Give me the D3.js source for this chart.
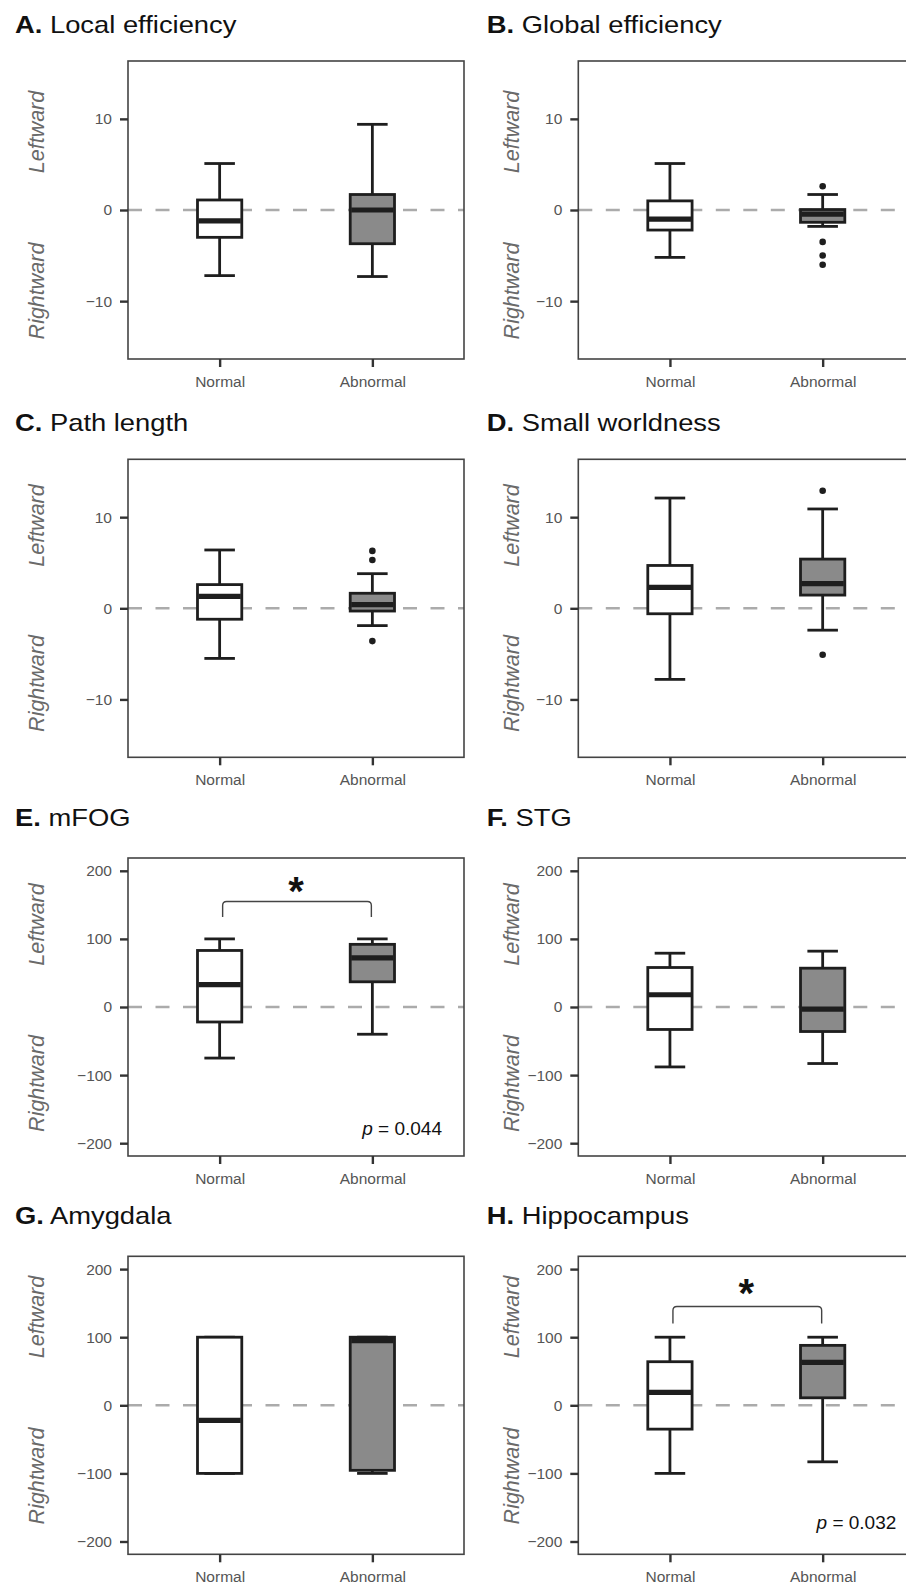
<!DOCTYPE html>
<html>
<head>
<meta charset="utf-8">
<script src="https://cdn.jsdelivr.net/npm/d3@7"></script>
<style>
  body { margin: 0; background: #fff; }
  svg { display: block; font-family: "Liberation Sans", Arial, sans-serif; }
</style>
</head>
<body>
<svg id="chart" width="906" height="1587"></svg>
<script>
const groups = ["Normal", "Abnormal"];
const panelLetters = ["A.", "B.", "C.", "D.", "E.", "F.", "G.", "H."];
const panelNames = ["Local efficiency", "Global efficiency", "Path length", "Small worldness",
  "mFOG", "STG", "Amygdala", "Hippocampus"];
const smallTicks = [-10, 0, 10];
const largeTicks = [-200, -100, 0, 100, 200];

// [min, q1, median, q3, max] per panel
const normalStats = [
  [-7.2, -3.0, -1.2, 1.1, 5.1],
  [-5.2, -2.2, -1.0, 1.0, 5.1],
  [-5.5, -1.2, 1.3, 2.6, 6.4],
  [-7.8, -0.6, 2.3, 4.7, 12.1],
  [-75, -22, 33, 83, 100],
  [-88, -33, 18, 58, 79],
  [-100, -100, -22, 100, 100],
  [-100, -35, 19, 64, 100]
];
const abnormalStats = [
  [-7.3, -3.7, 0.0, 1.7, 9.4],
  [-1.8, -1.35, -0.45, 0.05, 1.7],
  [-1.9, -0.3, 0.4, 1.65, 3.8],
  [-2.4, 1.45, 2.7, 5.4, 10.9],
  [-40, 37, 72, 92, 100],
  [-83, -36, -3, 57, 82],
  [-100, -95.5, 95, 100, 100],
  [-83, 11, 63, 88, 100]
];
const normalOutliers = [[], [], [], [], [], [], [], []];
const abnormalOutliers = [[], [2.6, -3.5, -5.0, -6.0], [6.3, 5.3, -3.6], [12.9, -5.1], [], [], [], []];

// significance annotations (data units)
const bracketTop = [null, null, null, null, 155, null, null, 145];
const bracketEnd = [null, null, null, null, 132, null, null, 120];
const starLevel = [null, null, null, null, 184, null, null, 178];
const pText = [null, null, null, null, "0.044", null, null, "0.032"];
const pLevel = [null, null, null, null, -188, null, null, -181];

// layout
const frameW = 336, frameH = 298;
const colX = [128, 578.3];
const rowY = [61, 459.3, 858, 1256.3];
const titleX = [15, 486.7];
const titleY = [33, 431, 826, 1223.5];
const sideX = [36.7, 511.7];
const sideY = [[132, 291], [525.5, 683.5], [924.5, 1083.5], [1317, 1476]];
const pRight = [22, 18];

const svg = d3.select("#chart");

panelNames.forEach((name, i) => {
  const col = i % 2, row = Math.floor(i / 2);
  const big = row >= 2;
  const lim = big ? 218.8 : 16.35;

  const x = d3.scalePoint().domain(groups).range([0, frameW]).padding(0.6);
  const y = d3.scaleLinear().domain([-lim, lim]).range([frameH, 0]);
  const boxW = x.step() * 0.29, capW = x.step() * 0.2;

  // title
  const t = svg.append("text")
    .attr("transform", `translate(${titleX[col]},${titleY[row]}) scale(1.14,1)`)
    .style("font-size", "24px").attr("fill", "#111");
  t.append("tspan").attr("font-weight", "bold").text(panelLetters[i]);
  t.append("tspan").text(" " + name);

  // side labels
  ["Leftward", "Rightward"].forEach((lab, k) => {
    svg.append("text")
      .attr("transform", `translate(${sideX[col]},${sideY[row][k]}) rotate(-90)`)
      .attr("text-anchor", "middle").attr("dy", "0.36em")
      .style("font-size", "21.5px").style("font-style", "italic")
      .attr("fill", "#6a6a6a").text(lab);
  });

  const g = svg.append("g").attr("transform", `translate(${colX[col]},${rowY[row]})`);

  // zero reference
  g.append("line")
    .attr("x1", 0).attr("x2", frameW).attr("y1", y(0)).attr("y2", y(0))
    .attr("stroke", "#ababab").attr("stroke-width", 2.6).attr("stroke-dasharray", "14 13.5");

  const boxes = groups.map((grp, k) => ({
    grp, s: k === 0 ? normalStats[i] : abnormalStats[i],
    out: k === 0 ? normalOutliers[i] : abnormalOutliers[i],
    fill: k === 0 ? "#ffffff" : "#8a8a8a"
  }));

  const bg = g.selectAll(".box").data(boxes).enter().append("g");
  // whiskers
  bg.append("line")
    .attr("x1", d => x(d.grp)).attr("x2", d => x(d.grp))
    .attr("y1", d => y(d.s[4])).attr("y2", d => y(d.s[0]))
    .attr("stroke", "#1e1e1e").attr("stroke-width", 2.8);
  [0, 4].forEach(j => {
    bg.append("line")
      .attr("x1", d => x(d.grp) - capW / 2).attr("x2", d => x(d.grp) + capW / 2)
      .attr("y1", d => y(d.s[j])).attr("y2", d => y(d.s[j]))
      .attr("stroke", "#1e1e1e").attr("stroke-width", 2.8);
  });
  bg.append("rect")
    .attr("x", d => x(d.grp) - boxW / 2).attr("width", boxW)
    .attr("y", d => y(d.s[3])).attr("height", d => y(d.s[1]) - y(d.s[3]))
    .attr("fill", d => d.fill).attr("stroke", "#1e1e1e").attr("stroke-width", 2.8);
  bg.append("line")
    .attr("x1", d => x(d.grp) - boxW / 2 + 1).attr("x2", d => x(d.grp) + boxW / 2 - 1)
    .attr("y1", d => y(d.s[2])).attr("y2", d => y(d.s[2]))
    .attr("stroke", "#1e1e1e").attr("stroke-width", 5.2);
  bg.selectAll("circle").data(d => d.out.map(v => ({ grp: d.grp, v }))).enter().append("circle")
    .attr("cx", d => x(d.grp)).attr("cy", d => y(d.v)).attr("r", 3.3).attr("fill", "#1e1e1e");

  // significance
  if (bracketTop[i] != null) {
    const x1 = x(groups[0]) + 3, x2 = x(groups[1]) - 1, r = 4;
    const yt = y(bracketTop[i]), ye = y(bracketEnd[i]);
    g.append("path")
      .attr("d", `M${x1},${ye} V${yt + r} Q${x1},${yt} ${x1 + r},${yt} H${x2 - r} Q${x2},${yt} ${x2},${yt + r} V${ye}`)
      .attr("fill", "none").attr("stroke", "#444").attr("stroke-width", 1.4);
    g.append("text")
      .attr("x", (x(groups[0]) + x(groups[1])) / 2).attr("y", y(starLevel[i]) + 40 * 0.575)
      .attr("text-anchor", "middle").attr("font-weight", "bold")
      .style("font-size", "40px").attr("fill", "#111").text("*");
    const pt = g.append("text")
      .attr("x", frameW - pRight[col]).attr("y", y(pLevel[i]))
      .attr("text-anchor", "end").style("font-size", "19px").attr("fill", "#111");
    pt.append("tspan").style("font-style", "italic").text("p");
    pt.append("tspan").text(" = " + pText[i]);
  }

  // frame
  g.append("rect").attr("width", frameW).attr("height", frameH)
    .attr("fill", "none").attr("stroke", "#444").attr("stroke-width", 1.6);

  // axes
  const styleAxis = a => {
    a.attr("font-family", null).attr("font-size", null);
    a.select(".domain").remove();
    a.selectAll("line").attr("stroke", "#333").attr("stroke-width", 2.4);
    a.selectAll("text").attr("fill", "#555").style("font-size", "15.5px");
  };
  g.append("g")
    .call(d3.axisLeft(y).tickValues(big ? largeTicks : smallTicks).tickSize(8).tickPadding(8))
    .call(styleAxis);
  g.append("g").attr("transform", `translate(0,${frameH})`)
    .call(d3.axisBottom(x).tickSize(8).tickPadding(9))
    .call(styleAxis);
});
</script>
</body>
</html>
